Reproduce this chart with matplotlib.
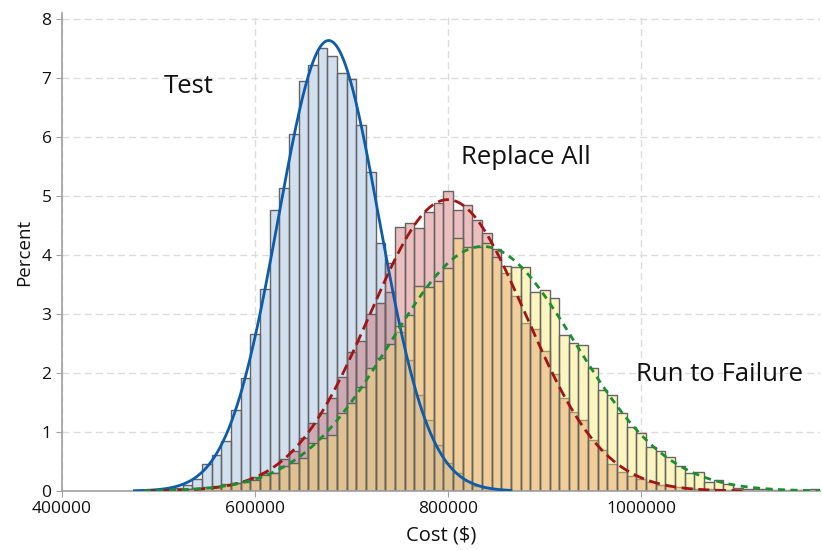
import numpy as np
import matplotlib
matplotlib.use("Agg")
import matplotlib.pyplot as plt
from matplotlib.colors import to_rgba

plt.rcParams['font.family'] = ['Open Sans', 'DejaVu Sans']

bin_width = 10000

# percent of runs per 10000-wide cost bin
test_start = 480000
test_pct = [0.01, 0.01, 0.02, 0.03, 0.05, 0.10, 0.21, 0.46, 0.61, 0.85,
            1.38, 1.91, 2.66, 3.43, 4.76, 5.14, 6.05, 6.94, 7.22, 7.50,
            7.37, 7.08, 6.98, 6.20, 5.41, 4.21, 3.38, 2.70, 2.22, 1.63,
            1.20, 0.78, 0.47, 0.30, 0.17, 0.09, 0.05, 0.02, 0.01]

replace_start = 490000
replace_pct = [0.01, 0.01, 0.01, 0.02, 0.03, 0.04, 0.05, 0.07, 0.10, 0.14,
               0.17, 0.24, 0.31, 0.30, 0.55, 0.67, 0.89, 1.15, 1.32, 1.57,
               1.93, 2.36, 2.54, 3.00, 3.19, 3.86, 4.47, 4.54, 4.45, 4.72,
               4.88, 5.08, 4.76, 4.85, 4.59, 4.37, 4.10, 3.69, 3.30, 2.84,
               2.74, 2.38, 1.99, 1.57, 1.34, 1.20, 0.86, 0.69, 0.45, 0.33,
               0.26, 0.21, 0.15, 0.10, 0.08, 0.07, 0.05, 0.04, 0.03, 0.02,
               0.01, 0.01]

failure_start = 490000
failure_pct = [0.01, 0.01, 0.02, 0.02, 0.03, 0.05, 0.06, 0.09, 0.11, 0.14,
               0.16, 0.19, 0.27, 0.30, 0.42, 0.47, 0.56, 0.81, 0.89, 0.95,
               1.33, 1.49, 1.77, 2.08, 2.25, 2.49, 2.80, 2.98, 3.47, 3.45,
               3.56, 3.78, 4.28, 4.14, 4.14, 4.20, 3.97, 3.81, 3.80, 3.80,
               3.38, 3.41, 3.27, 2.64, 2.50, 2.47, 2.09, 1.71, 1.62, 1.32,
               1.09, 0.99, 0.75, 0.68, 0.57, 0.42, 0.30, 0.33, 0.16, 0.19,
               0.12, 0.05, 0.04, 0.035, 0.04, 0.02, 0.02, 0.01, 0.01, 0.03]

series = [
    ("Test", test_start, test_pct, to_rgba('#a7c1df', 0.5), '#0b5cad', '-'),
    ("Replace All", replace_start, replace_pct, to_rgba('#c64848', 0.35), '#a31515', (0, (4, 2))),
    ("Run to Failure", failure_start, failure_pct, to_rgba('#fce662', 0.4), '#1a8f2e', (0, (2.5, 2))),
]

fig = plt.figure(figsize=(8.22, 5.5), dpi=100)
ax = fig.add_axes([0.0754, 0.1073, 0.922, 0.869])

# white underlay so the grid stays behind the bars
for name, start, pct, face, line_color, ls in series:
    centers = start + bin_width * np.arange(len(pct))
    ax.bar(centers, pct, width=bin_width, color='white', linewidth=0, zorder=1.5)

for i, (name, start, pct, face, line_color, ls) in enumerate(series):
    centers = start + bin_width * np.arange(len(pct))
    ax.bar(centers, pct, width=bin_width, facecolor=face, edgecolor='#646464',
           linewidth=1.0, zorder=2 + i * 0.1)

# normal fit for each series, from the binned data
for name, start, pct, face, line_color, ls in series:
    centers = start + bin_width * np.arange(len(pct))
    w = np.array(pct)
    mu = np.sum(centers * w) / w.sum()
    sd = np.sqrt(np.sum(w * (centers - mu) ** 2) / w.sum())
    xs = np.linspace(centers[0] - bin_width / 2, centers[-1] + bin_width / 2, 400)
    ys = w.sum() * bin_width * np.exp(-0.5 * ((xs - mu) / sd) ** 2) / (sd * np.sqrt(2 * np.pi))
    ax.plot(xs, ys, color=line_color, linestyle=ls, linewidth=2.0, zorder=5)

ax.text(505000, 6.86, "Test", fontsize=18.5, va='center', ha='left', color='#111111')
ax.text(813000, 5.66, "Replace All", fontsize=18.5, va='center', ha='left', color='#111111')
ax.text(995000, 1.97, "Run to Failure", fontsize=18.5, va='center', ha='left', color='#111111')

ax.set_xlim(400000, 1185000)
ax.set_ylim(0, 8.1)
ax.set_xticks([400000, 600000, 800000, 1000000])
ax.set_xticklabels(['400000', '600000', '800000', '1000000'])
ax.set_yticks(range(0, 9))

ax.grid(True, color='#dcdcdc', linestyle=(0, (5, 3)), linewidth=1.0, zorder=0.5)
ax.set_axisbelow(True)

for side in ['top', 'right']:
    ax.spines[side].set_visible(False)
for side in ['left', 'bottom']:
    ax.spines[side].set_color('#a0a0a0')
    ax.spines[side].set_linewidth(1.2)

ax.tick_params(axis='both', colors='#a0a0a0', labelcolor='#111111', labelsize=12.5, length=4)
ax.set_xlabel("Cost ($)", fontsize=14.5, color='#111111', labelpad=6)
ax.set_ylabel("Percent", fontsize=13.5, color='#111111', labelpad=6)

fig.savefig("out.png", dpi=100)
